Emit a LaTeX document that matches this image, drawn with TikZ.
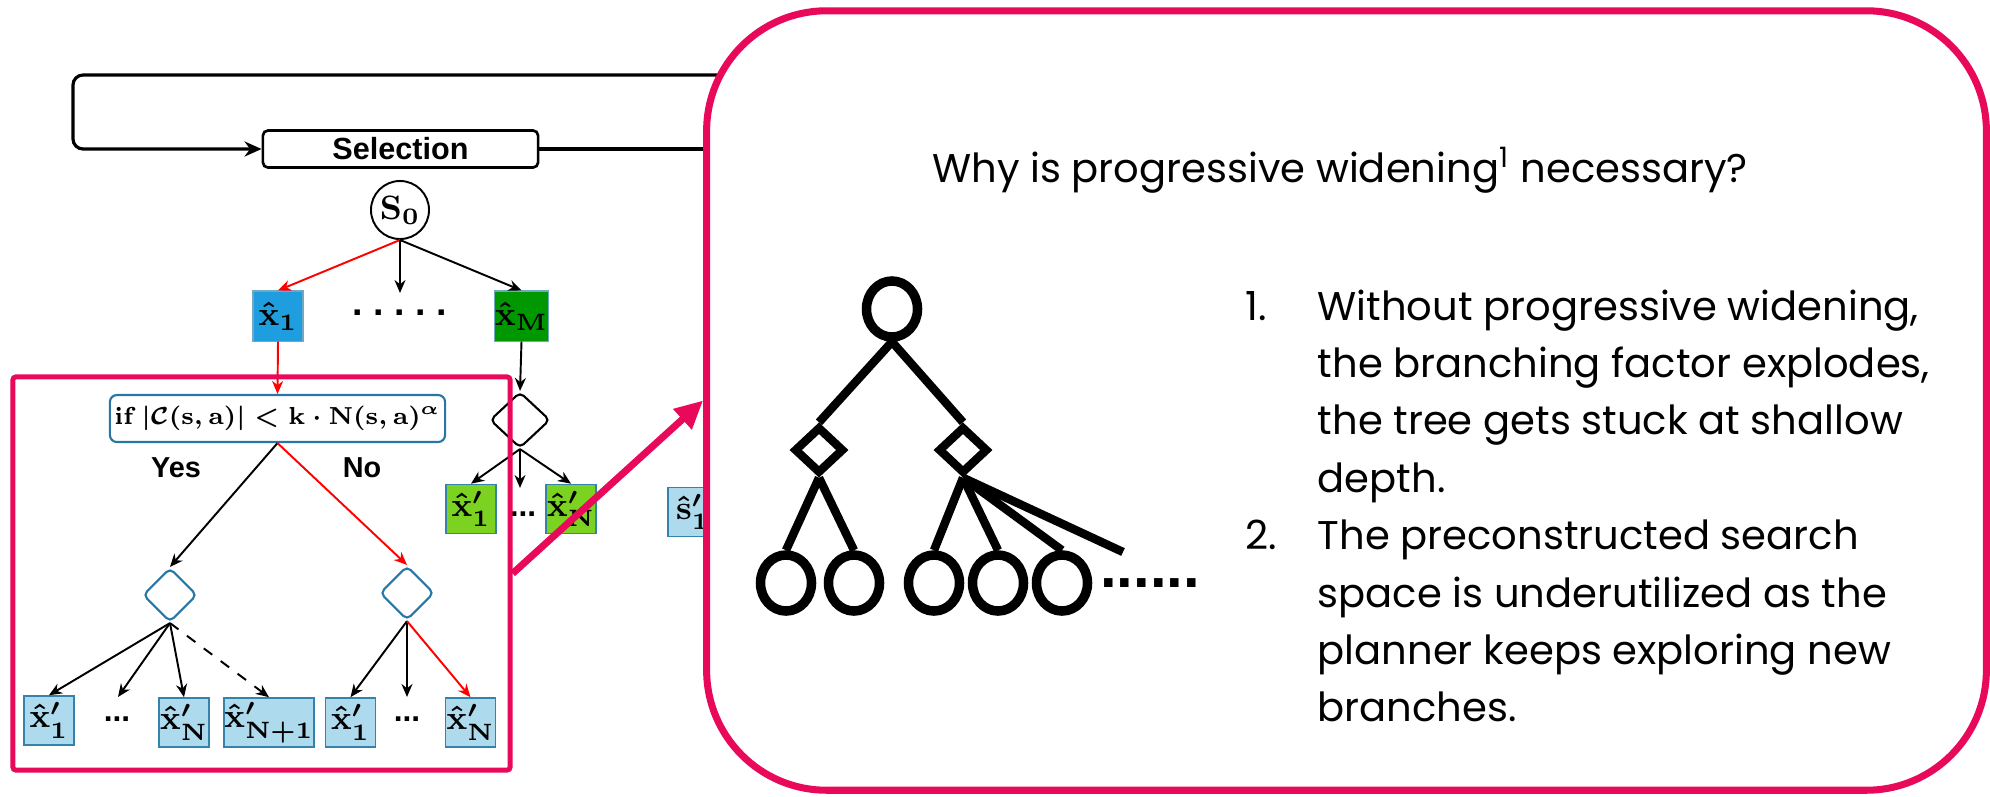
\RequirePackage{fix-cm}
\documentclass[tikz,border=0pt]{standalone}
\usepackage[no-math]{fontspec}
\setmainfont{Poppins}
\newfontfamily\helv{Liberation Sans}
\usetikzlibrary{arrows.meta,shapes.geometric}

\definecolor{pwpink}{RGB}{232,9,90}
\definecolor{xblue}{RGB}{30,158,222}
\definecolor{xgreen}{RGB}{0,152,0}
\definecolor{xlime}{RGB}{124,210,32}
\definecolor{leafblue}{RGB}{174,218,238}
\definecolor{leafline}{RGB}{52,131,171}
\definecolor{pwblue}{RGB}{38,118,166}

\newcommand{\xhat}[1]{$\hat{\mathbf{x}}_{\mathbf{#1}}$}
\newcommand{\xprime}[1]{$\hat{\mathbf{x}}'_{\mathbf{#1}}$}

\begin{document}
\begin{tikzpicture}[x=0.01cm,y=-0.01cm,
  arr/.style={line width=0.55pt,-{Stealth[length=0.13cm,width=0.11cm]}},
  redarr/.style={arr,red},
  loopline/.style={line width=0.9pt},
  mathfont/.style={font=\fontsize{9.6}{11}\selectfont\boldmath},
  selbox/.style={draw,line width=0.75pt,rounded corners=0.05cm,minimum width=2.75cm,minimum height=0.37cm,inner sep=0pt,font=\helv\bfseries\fontsize{8.7}{10}\selectfont},
  statenode/.style={circle,draw,line width=0.55pt,minimum size=0.58cm,inner sep=0pt,mathfont},
  xbox/.style={draw=leafline!70,line width=0.3pt,minimum width=0.5cm,minimum height=0.5cm,inner sep=0pt,mathfont},
  leaf/.style={xbox,draw=leafline,line width=0.45pt,fill=leafblue,minimum height=0.49cm},
  cond/.style={draw=pwblue,fill=white,line width=0.6pt,rounded corners=0.07cm,minimum width=3.35cm,minimum height=0.47cm,inner sep=0pt,font=\fontsize{7}{9}\selectfont\boldmath},
  choice/.style={diamond,draw=pwblue,line width=0.6pt,rounded corners=0.05cm,minimum width=0.54cm,minimum height=0.54cm,inner sep=0pt},
  yn/.style={font=\helv\bfseries\fontsize{8.2}{10}\selectfont,inner sep=0pt},
  ddd/.style={font=\helv\bfseries\fontsize{9}{10}\selectfont,inner sep=0pt},
  dotrow/.style={font=\helv\bfseries\fontsize{10.7}{12}\selectfont\frenchspacing,inner sep=0pt},
  bigbox/.style={draw=pwpink,fill=white,line width=2pt,rounded corners=1.2cm,minimum width=12.79cm,minimum height=7.79cm},
  pwframe/.style={draw=pwpink,line width=1.4pt,rounded corners=0.03cm,minimum width=4.97cm,minimum height=3.93cm},
  pinkarr/.style={draw=pwpink,line width=2pt,-{Triangle[length=0.28cm,width=0.26cm]}},
  treeline/.style={line width=2.4pt},
  ring/.style={ellipse,draw,line width=2.7pt,minimum width=0.51cm,minimum height=0.56cm,inner sep=0pt},
  gate/.style={diamond,draw,line width=2.4pt,minimum width=0.5cm,minimum height=0.47cm,inner sep=0pt},
  textfont/.style={font=\fontsize{11.4}{16.33}\selectfont}]
\useasboundingbox (0,0) rectangle (1990,796);

% selection loop
\node[selbox] (sel) at (400.5,149) {Selection};
\coordinate (loopin) at (760,75);
\coordinate (loopturn) at (73,75);
\coordinate (selout) at (760,149);
\draw[loopline,rounded corners=0.1cm,-{Stealth[length=0.17cm,width=0.15cm]}] (loopin) -- (loopturn) |- (sel.west);
\draw[loopline] (sel.east) -- (selout);

\node[statenode] (s0) at (400,210) {$\mathbf{S}_{\mathbf{0}}$};
\node[xbox,fill=xblue] (x1) at (278,316) {\xhat{1}};
\node[dotrow] (xdots) at (400,313) {. . . . .};
\node[xbox,fill=xgreen] (xm) at (521.5,316) {\xhat{M}};
\coordinate (s0mid) at (400,293);
\draw[redarr] (s0.south) -- (x1.north);
\draw[arr] (s0.south) -- (s0mid);
\draw[arr] (s0.south) -- (xm.north);

% widening test
\node[cond] (cond) at (277.5,418.5) {$\mathbf{if}\,|\mathcal{C}(\mathbf{s},\mathbf{a})| < \mathbf{k}\cdot\mathbf{N}(\mathbf{s},\mathbf{a})^{\alpha}$};
\draw[redarr] (x1.south) -- (cond.north);
\node[yn] (yes) at (176,468) {Yes};
\node[yn] (no) at (362,468) {No};
\node[choice] (c1) at (170,595) {};
\node[choice] (c2) at (407,593) {};
\draw[arr] (cond.south) -- (c1.north);
\draw[redarr] (cond.south) -- (c2.north);

\node[leaf] (l1) at (49,720.5) {\xprime{1}};
\node[ddd] (ldots) at (117,719) {...};
\node[leaf] (ln) at (184,722.5) {\xprime{N}};
\node[leaf,minimum width=0.88cm] (ln1) at (269,722.5) {\xprime{N+1}};
\node[leaf] (r1) at (350.5,722.5) {\xprime{1}};
\node[ddd] (rdots) at (407,719) {...};
\node[leaf] (rn) at (470.5,722.5) {\xprime{N}};
\coordinate (l1mid) at (118,697);
\coordinate (r1mid) at (407,697);
\draw[arr] (c1.south) -- (l1.north);
\draw[arr] (c1.south) -- (l1mid);
\draw[arr] (c1.south) -- (ln.north);
\draw[arr,dashed] (c1.south) -- (ln1.north);
\draw[arr] (c2.south) -- (r1.north);
\draw[arr] (c2.south) -- (r1mid);
\draw[redarr] (c2.south) -- (rn.north);

\node[choice,draw=black,minimum width=0.6cm,minimum height=0.56cm] (cm) at (520,420) {};
\draw[arr] (xm.south) -- (cm.north);
\node[leaf,fill=xlime] (g1) at (471,509) {\xprime{1}};
\node[ddd] (gdots) at (523,514) {...};
\node[leaf,fill=xlime] (gn) at (571,509) {\xprime{N}};
\coordinate (gmid) at (520,488);
\draw[arr] (cm.south) -- (g1.north);
\draw[arr] (cm.south) -- (gmid);
\draw[arr] (cm.south) -- (gn.north);
\node[leaf] (s1) at (693,512) {$\hat{\mathbf{s}}'_{\mathbf{1}}$};

% callout
\node[bigbox] (why) at (1346.5,400.5) {};
\node[pwframe] (pw) at (261.5,573.5) {};
\draw[pinkarr] (pw.east) -- (why.west);

\node[ring] (root) at (892,309) {};
\node[gate] (gl) at (819,450) {};
\node[gate] (gr) at (963,450) {};
\node[ring] (t1) at (786,583) {};
\node[ring] (t2) at (854,583) {};
\node[ring] (t3) at (934,583) {};
\node[ring] (t4) at (998,583) {};
\node[ring] (t5) at (1062,583) {};
\coordinate (grmore) at (1123,552);
\draw[treeline] (root.south) -- (gl.north);
\draw[treeline] (root.south) -- (gr.north);
\draw[treeline] (gl.south) -- (t1.north);
\draw[treeline] (gl.south) -- (t2.north);
\draw[treeline] (gr.south) -- (t3.north);
\draw[treeline] (gr.south) -- (t4.north);
\draw[treeline] (gr.south) -- (t5.north);
\draw[treeline] (gr.south) -- (grmore);
\node[font=\helv\bfseries\fontsize{17}{18}\selectfont,inner sep=0pt] (moredots) at (1150,583) {......};

\node[textfont,anchor=base] (title) at (1340,182) {Why is progressive widening\textsuperscript{1} necessary?};
\node[textfont,anchor=base west,inner sep=0pt] (reasons) at (1245,320) {%
\begin{tabular}[t]{@{}p{0.72cm}@{}l@{}}
1. & Without progressive widening,\\
   & the branching factor explodes,\\
   & the tree gets stuck at shallow\\
   & depth.\\
2. & The preconstructed search\\
   & space is underutilized as the\\
   & planner keeps exploring new\\
   & branches.
\end{tabular}};
\end{tikzpicture}
\end{document}
